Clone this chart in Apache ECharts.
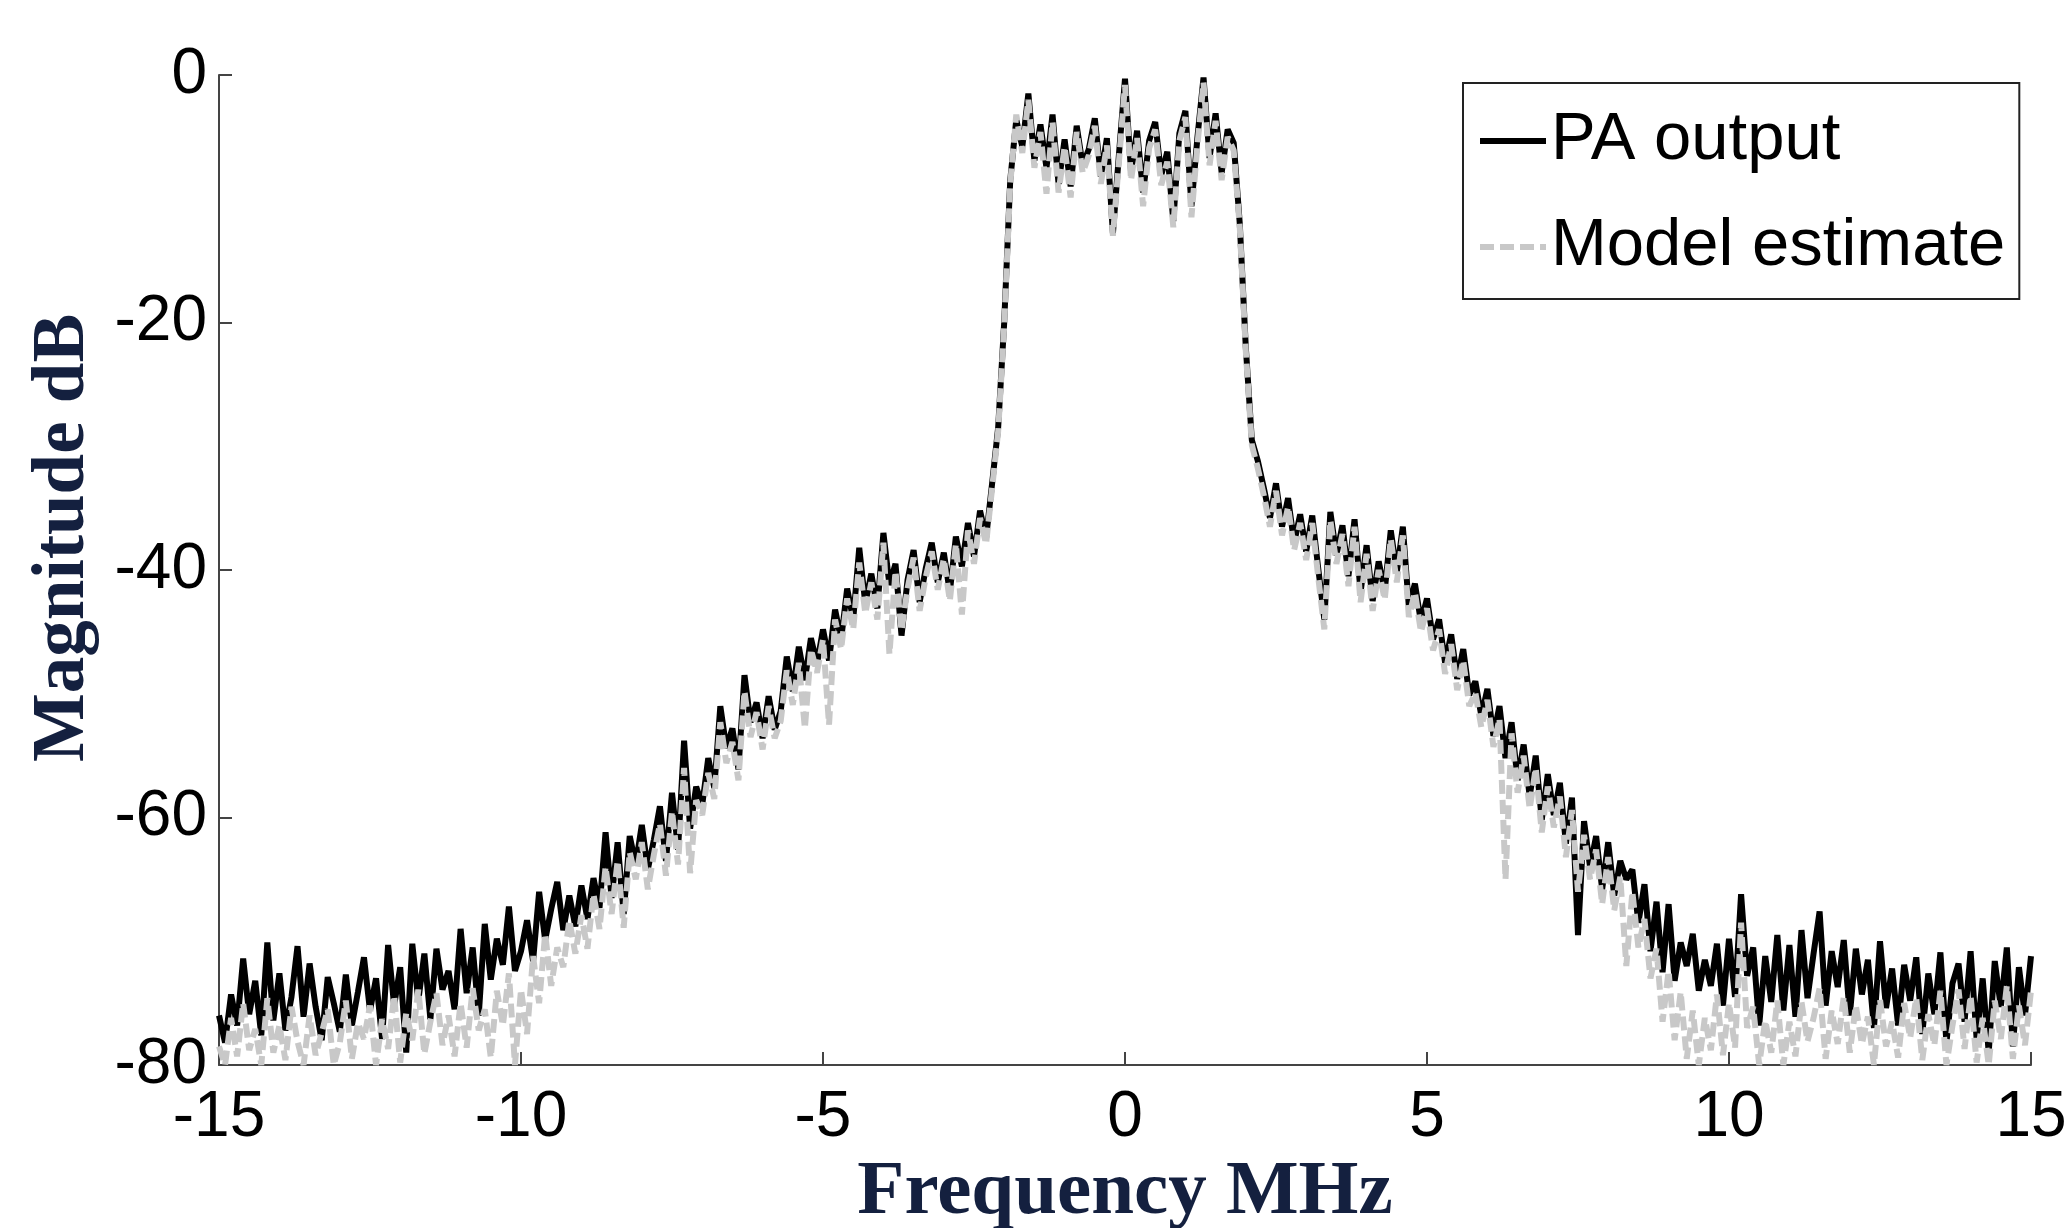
<!DOCTYPE html>
<html>
<head>
<meta charset="utf-8">
<script src="https://cdn.jsdelivr.net/npm/echarts@6/dist/echarts.min.js"></script>
<style>
html,body{margin:0;padding:0;background:#fff;}
#chart{width:2071px;height:1228px;}
</style>
</head>
<body>
<div id="chart"></div>
<script>
// Frequency grid (MHz): start and spacing of the samples
const freqStart = -15;
const freqStep = 0.1;

// PA output magnitude (dB), one value per 0.1 MHz from -15 to 15
const paOutput = [
  -76.0, -78.2, -74.3, -76.8, -71.4, -75.9, -73.2, -77.6, -70.1, -76.4,
  -72.6, -77.2, -74.5, -70.4, -76.1, -71.8, -75.3, -78.0, -72.9, -75.0,
  -77.3, -72.7, -76.8, -74.1, -71.3, -75.6, -73.0, -77.9, -70.3, -75.2,
  -72.1, -79.0, -70.2, -74.8, -71.0, -76.3, -70.6, -73.9, -72.4, -75.5,
  -69.0, -74.2, -70.5, -76.0, -68.6, -73.1, -69.8, -71.9, -67.2, -72.4,
  -70.8, -68.3, -71.6, -66.0, -69.9, -67.4, -65.2, -69.1, -66.3, -68.8,
  -65.5, -68.2, -64.9, -67.3, -61.2, -66.5, -62.0, -67.8, -61.5, -63.8,
  -60.6, -64.2, -61.8, -59.1, -63.5, -58.0, -62.6, -53.8, -60.9, -57.5,
  -59.0, -55.2, -57.6, -51.0, -54.4, -52.8, -56.1, -48.5, -52.3, -50.7,
  -53.6, -50.2, -52.9, -51.4, -47.0, -49.8, -46.2, -48.9, -45.5, -47.6,
  -44.8, -47.3, -43.2, -45.6, -41.5, -44.0, -38.2, -42.7, -40.3, -43.1,
  -37.0, -41.2, -39.5, -45.3, -40.8, -38.4, -42.6, -39.9, -37.8, -41.0,
  -38.6, -41.8, -37.3, -39.7, -36.2, -38.9, -35.2, -37.4, -33.0, -28.5,
  -20.0, -8.5, -3.6, -5.8, -1.5, -6.9, -4.0, -7.5, -3.2, -8.8,
  -5.2, -9.0, -4.1, -7.3, -6.0, -3.5, -8.2, -5.1, -12.8, -6.4,
  -0.3, -7.8, -4.5, -9.5, -5.3, -3.8, -8.1, -6.2, -11.8, -4.7,
  -2.9, -10.6, -5.0, -0.2, -6.7, -3.1, -7.9, -4.4, -5.5, -12.0,
  -22.0, -29.5, -31.2, -33.4, -35.8, -33.0, -36.5, -34.2, -37.8, -35.5,
  -38.5, -35.6, -39.9, -44.0, -35.3, -38.8, -36.4, -40.5, -35.9, -41.8,
  -38.0, -42.5, -39.3, -41.7, -36.8, -40.2, -36.5, -43.0, -41.1, -44.2,
  -42.3, -45.6, -44.0, -47.5, -45.2, -48.8, -46.4, -50.1, -49.0, -51.8,
  -49.6, -53.4, -51.0, -55.2, -52.3, -57.0, -54.1, -58.3, -55.0, -60.2,
  -56.5, -59.8, -57.2, -62.1, -58.4, -69.5, -60.3, -64.0, -61.5, -65.8,
  -62.0, -66.3, -63.5, -65.0, -64.2, -68.5, -65.4, -70.8, -66.8, -72.5,
  -67.0, -73.2, -70.1, -72.0, -69.4, -74.0, -71.5, -73.6, -70.2, -75.2,
  -69.8, -74.5, -66.2, -72.8, -70.5, -76.8, -71.2, -74.9, -69.5, -75.6,
  -70.3, -76.1, -69.1, -74.6, -71.0, -67.6, -75.2, -70.8, -73.7, -69.9,
  -76.0, -70.6, -74.3, -71.5, -77.0, -70.0, -75.4, -72.2, -76.8, -71.9,
  -74.8, -71.3, -77.5, -72.6, -75.9, -70.9, -78.2, -73.4, -71.8, -76.5,
  -70.8, -77.9, -73.0, -79.0, -71.6, -75.3, -70.5, -78.5, -72.1, -76.0,
  -71.2
];

// Model estimate magnitude (dB), same frequency grid
const modelEstimate = [
  -78.5, -80.0, -76.2, -79.3, -75.0, -78.8, -77.1, -80.0, -74.6, -79.0,
  -76.8, -79.6, -75.3, -78.1, -80.0, -76.0, -79.2, -77.4, -75.5, -80.0,
  -78.2, -74.8, -79.5, -76.6, -77.9, -75.2, -80.0, -76.3, -78.7, -74.4,
  -79.8, -75.8, -78.0, -73.9, -79.1, -76.5, -74.2, -78.4, -76.0, -79.3,
  -75.0, -78.6, -73.8, -77.2, -75.5, -79.4, -74.0, -76.8, -72.6, -80.0,
  -73.9, -77.5, -71.2, -75.0, -69.4, -73.6, -70.5, -72.1, -68.3, -71.0,
  -67.9, -70.6, -66.2, -69.0, -64.0, -67.8, -63.5, -68.9, -62.8, -65.0,
  -62.0, -65.8, -63.0, -60.5, -64.7, -59.5, -63.8, -56.0, -64.5, -58.6,
  -59.8, -56.4, -58.5, -52.3, -55.6, -53.9, -57.0, -49.8, -53.5, -51.5,
  -54.5, -51.0, -53.6, -52.2, -48.1, -50.9, -47.5, -52.8, -46.4, -48.3,
  -45.6, -52.5, -44.0, -46.4, -42.3, -44.8, -39.4, -43.5, -41.0, -44.0,
  -37.8, -46.8, -40.1, -44.9, -41.5, -39.0, -43.3, -40.6, -38.5, -41.6,
  -39.1, -42.5, -37.9, -43.6, -36.8, -39.5, -35.8, -37.9, -33.4, -28.8,
  -20.3, -8.8, -3.2, -6.3, -2.0, -7.5, -4.6, -9.6, -3.8, -9.5,
  -5.8, -9.9, -4.6, -7.9, -6.5, -4.1, -8.8, -5.7, -13.0, -7.0,
  -0.8, -8.5, -5.1, -10.6, -5.9, -4.4, -8.9, -7.0, -12.3, -5.3,
  -3.4, -11.5, -5.6, -0.6, -7.3, -3.7, -8.5, -5.0, -6.1, -12.3,
  -22.3, -29.9, -31.8, -34.0, -36.5, -33.6, -37.2, -34.9, -38.4, -36.2,
  -39.2, -36.2, -40.6, -44.8, -36.0, -39.5, -37.1, -41.3, -36.5, -42.6,
  -38.7, -43.3, -40.0, -42.4, -37.5, -41.0, -37.2, -43.8, -41.8, -45.0,
  -43.1, -46.5, -44.8, -48.4, -46.0, -49.7, -47.3, -51.0, -49.9, -52.7,
  -50.5, -54.3, -52.0, -65.0, -53.2, -58.0, -55.0, -59.3, -56.0, -61.2,
  -57.5, -60.8, -58.3, -63.2, -59.4, -66.0, -61.4, -65.0, -62.6, -67.0,
  -63.2, -67.5, -64.8, -72.0, -66.0, -70.5, -68.2, -73.0, -70.6, -76.5,
  -72.4, -78.0, -74.1, -79.5, -75.6, -80.0, -76.2, -78.8, -74.3, -79.2,
  -75.0, -78.6, -68.5, -77.0, -75.3, -80.0, -76.4, -79.0, -74.8, -80.0,
  -76.5, -79.3, -74.9, -78.1, -76.2, -73.8, -79.5, -75.6, -78.3, -74.5,
  -79.0, -75.2, -78.3, -76.1, -80.0, -74.7, -78.5, -76.5, -79.4, -75.0,
  -77.8, -74.6, -79.6, -75.9, -78.4, -74.0, -80.0, -76.8, -73.9, -78.7,
  -74.4, -79.8, -76.2, -80.0, -74.8, -77.9, -73.6, -79.5, -75.2, -78.4,
  -74.0
];

const seriesNames = ['PA output', 'Model estimate'];
const xTicks = [-15, -10, -5, 0, 5, 10, 15];
const yTicks = [-80, -60, -40, -20, 0];

function pairs(vals) {
  return vals.map((v, i) => [Math.round((freqStart + i * freqStep) * 100) / 100, v]);
}

const tickFont = "'Liberation Sans', Arial, sans-serif";
const nameFont = "'Liberation Serif', 'DejaVu Serif', serif";
const axisColor = '#444';

const chart = echarts.init(document.getElementById('chart'), null, {renderer: 'canvas'});
chart.setOption({
  animation: false,
  backgroundColor: '#ffffff',
  grid: {left: 219, right: 40, top: 75, bottom: 163, containLabel: false, outerBoundsMode: 'none'},
  legend: {
    orient: 'vertical',
    left: 1463,
    top: 83,
    padding: [18, 14, 12, 14],
    itemGap: 26,
    itemWidth: 66,
    itemHeight: 20,
    borderColor: '#222',
    borderWidth: 2,
    backgroundColor: '#fff',
    itemStyle: {opacity: 0},
    lineStyle: {width: 6},
    textStyle: {fontFamily: tickFont, fontSize: 67, color: '#000', lineHeight: 80},
    data: seriesNames
  },
  xAxis: {
    type: 'value',
    min: xTicks[0],
    max: xTicks[xTicks.length - 1],
    interval: 5,
    name: 'Frequency MHz',
    nameLocation: 'middle',
    nameGap: 88,
    nameTextStyle: {fontFamily: nameFont, fontWeight: 'bold', fontSize: 77, color: '#14203f'},
    axisLine: {show: true, onZero: false, lineStyle: {color: axisColor, width: 2}},
    axisTick: {show: true, inside: true, length: 13, lineStyle: {color: axisColor, width: 2}},
    axisLabel: {fontFamily: tickFont, fontSize: 64, color: '#000', margin: 21},
    splitLine: {show: false}
  },
  yAxis: {
    type: 'value',
    min: yTicks[0],
    max: yTicks[yTicks.length - 1],
    interval: 20,
    name: 'Magnitude dB',
    nameLocation: 'middle',
    nameGap: 118,
    nameRotate: 90,
    nameTextStyle: {fontFamily: nameFont, fontWeight: 'bold', fontSize: 73, color: '#14203f', padding: [0, 0, 0, 64]},
    axisLine: {show: true, onZero: false, lineStyle: {color: axisColor, width: 2}},
    axisTick: {show: true, inside: true, length: 13, lineStyle: {color: axisColor, width: 2}},
    axisLabel: {fontFamily: tickFont, fontSize: 64, color: '#000', margin: 12},
    splitLine: {show: false}
  },
  series: [
    {
      name: seriesNames[0],
      type: 'line',
      data: pairs(paOutput),
      showSymbol: false,
      symbol: 'none',
      lineStyle: {color: '#000', width: 6},
      itemStyle: {color: '#000'},
      z: 2
    },
    {
      name: seriesNames[1],
      type: 'line',
      data: pairs(modelEstimate),
      showSymbol: false,
      symbol: 'none',
      lineStyle: {color: '#c8c8c8', width: 6, type: [14, 6]},
      itemStyle: {color: '#c8c8c8'},
      z: 3
    }
  ]
});
</script>
</body>
</html>
